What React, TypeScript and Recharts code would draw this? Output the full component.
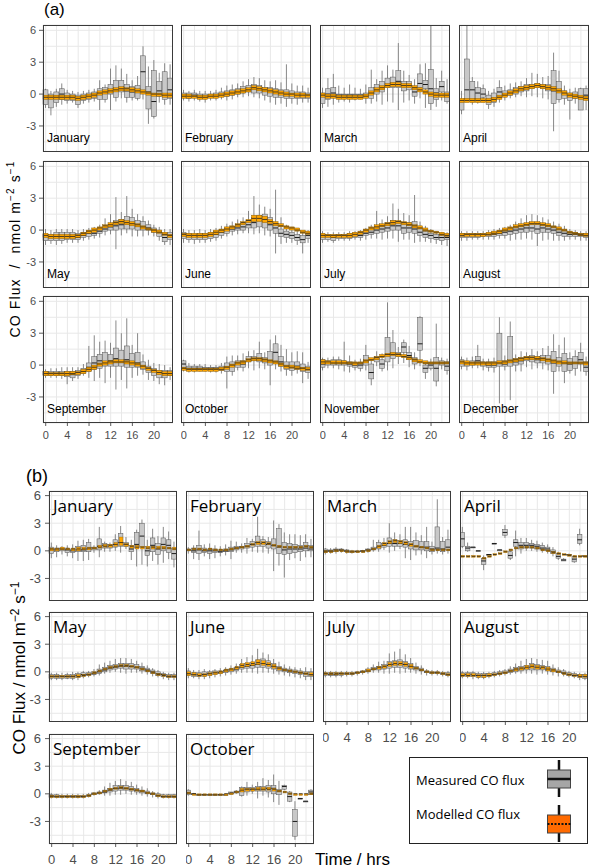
import { ComposedChart, Bar, XAxis, YAxis, CartesianGrid } from "recharts";

// hourly flux box plots, values in tenths of nmol m-2 s-1
// measured: [lower whisker, q1, median, q3, upper whisker]; modelled: [q1, median, q3]
const HOURS = [0, 1, 2, 3, 4, 5, 6, 7, 8, 9, 10, 11, 12, 13, 14, 15, 16, 17, 18, 19, 20, 21, 22, 23];
const MONTHS = ["January", "February", "March", "April", "May", "June", "July", "August", "September", "October", "November", "December"];
const Y_TICKS = [-4.5, -3, -1.5, 0, 1.5, 3, 4.5, 6];
const Y_LABELS = [-3, 0, 3, 6];
const X_LABELS = [0, 4, 8, 12, 16, 20];

// ---- (a)
const A_JAN_MEAS = [[-13,-10,-3,4,5],[-20,-13,-4,0,3],[-12,-8,-2,2,5],[-10,-5,0,5,10],[-9,-6,-3,1,4],[-8,-6,-3,0,3],[-13,-10,-5,-1,2],[-9,-6,-3,0,3],[-8,-5,-2,1,4],[-7,-4,0,2,5],[-15,-5,1,5,13],[-8,-5,1,6,9],[-15,0,4,9,24],[-7,-3,5,13,27],[-4,2,6,13,24],[-8,-3,3,9,19],[-6,-3,2,7,13],[-6,-4,2,8,17],[-5,2,21,36,45],[-28,-14,2,7,26],[-23,-21,-7,22,32],[-8,-2,3,12,20],[-10,-5,-1,21,29],[-10,-4,4,15,28]];
const A_JAN_MOD = [[-5,-3,-1],[-5,-3,-1],[-5,-3,-1],[-5,-3,-1],[-5,-3,-1],[-5,-3,-1],[-6,-4,-2],[-5,-3,-1],[-4,-2,0],[-3,-1,1],[-1,1,3],[0,2,4],[1,3,5],[2,4,6],[3,5,7],[3,5,6],[2,4,6],[1,3,5],[0,2,4],[-1,1,2],[-2,0,1],[-2,0,1],[-3,-1,1],[-3,-1,1]];
const A_FEB_MEAS = [[-6,-3,-1,1,4],[-7,-4,-1,1,3],[-6,-3,-1,1,4],[-7,-4,-2,0,3],[-8,-4,-2,0,3],[-6,-3,-1,0,3],[-6,-3,-1,1,4],[-5,-2,0,2,6],[-6,-2,1,3,8],[-5,-1,2,4,9],[-3,0,3,5,10],[-3,1,4,7,12],[-2,2,5,8,14],[-3,1,5,9,16],[-4,1,4,8,15],[-6,-1,3,6,13],[-8,-2,2,6,12],[-10,-3,1,5,13],[-9,-3,0,4,11],[-12,-4,0,4,28],[-9,-4,-1,3,10],[-10,-4,-1,2,8],[-8,-4,-1,2,8],[-8,-4,-1,1,6]];
const A_FEB_MOD = [[-4,-2,0],[-4,-2,0],[-4,-2,-1],[-5,-3,-1],[-5,-3,-1],[-4,-2,0],[-4,-2,0],[-3,-1,1],[-2,0,2],[-1,1,3],[0,2,4],[1,3,5],[2,4,6],[4,6,8],[3,5,7],[2,4,6],[1,3,5],[0,2,4],[-1,1,3],[-2,0,2],[-2,0,1],[-3,-1,1],[-3,-1,1],[-3,-1,0]];
const A_MAR_MEAS = [[-13,-9,-2,1,6],[-12,-5,0,5,15],[-10,-3,1,6,19],[-8,-3,-1,0,8],[-7,-3,-1,0,6],[-8,-3,-1,0,9],[-6,-3,-1,0,6],[-5,-2,-1,0,5],[-9,-3,-1,1,9],[-9,-4,1,6,23],[-7,0,4,9,14],[-10,2,7,12,22],[-7,6,9,15,27],[-8,6,10,16,23],[-15,6,12,22,48],[-8,3,8,12,22],[-6,4,8,12,18],[-9,-2,2,5,14],[-4,6,10,19,28],[-13,5,9,13,29],[-15,-9,5,23,65],[-12,-5,1,5,15],[-6,2,7,12,22],[-9,-7,-2,2,14]];
const A_MAR_MOD = [[-3,-1,1],[-4,-2,0],[-4,-2,0],[-5,-3,-1],[-5,-3,-1],[-5,-3,-1],[-5,-3,-1],[-5,-3,-1],[-4,-2,0],[-1,1,3],[2,4,6],[4,6,8],[6,8,10],[7,9,11],[7,9,11],[6,8,10],[6,8,10],[4,6,8],[2,4,6],[0,2,4],[-2,0,2],[-3,-1,1],[-3,-1,1],[-3,-1,1]];
const A_APR_MEAS = [[-19,-15,-6,-5,3],[-5,-5,4,33,65],[-10,-5,4,12,16],[-9,-5,1,6,12],[-7,-3,0,5,9],[-14,-10,-6,-1,3],[-12,-8,-4,1,5],[-8,-3,2,6,13],[-6,-2,0,3,8],[-4,-1,1,4,10],[-3,0,3,6,11],[-2,2,4,7,12],[-3,3,5,9,15],[-2,5,7,9,20],[-3,6,8,10,19],[-4,5,7,9,16],[-5,3,6,9,17],[-35,-9,3,22,39],[-8,-5,4,12,22],[-10,-4,0,3,8],[-24,-6,-2,1,5],[-9,-4,-1,2,6],[-15,-15,-4,5,6],[-15,-5,-1,5,8]];
const A_APR_MOD = [[-8,-6,-4],[-8,-6,-4],[-8,-6,-4],[-8,-6,-4],[-8,-6,-4],[-8,-6,-4],[-7,-5,-3],[-5,-3,-1],[-3,-1,1],[-1,1,3],[1,3,5],[3,5,7],[4,6,8],[5,7,9],[6,8,10],[5,7,9],[4,6,8],[3,5,7],[1,3,5],[-1,1,3],[-3,-1,1],[-4,-2,0],[-5,-3,-1],[-6,-4,-2]];
const A_MAY_MEAS = [[-14,-10,-6,-4,1],[-13,-10,-7,-4,0],[-14,-10,-6,-2,1],[-13,-10,-6,-2,1],[-12,-9,-7,-2,1],[-12,-9,-6,-2,1],[-12,-9,-7,-3,0],[-10,-7,-5,-2,1],[-9,-6,-3,-1,2],[-8,-5,-3,-1,3],[-7,-3,-1,1,5],[-5,-1,1,3,11],[-4,0,3,5,15],[-18,0,4,9,31],[-5,1,5,10,17],[-3,1,6,13,32],[-6,1,6,12,20],[-6,0,4,9,15],[-6,0,3,8,13],[-5,0,2,5,9],[-6,-2,0,2,5],[-10,-6,-2,0,3],[-14,-11,-7,-3,1],[-14,-9,-5,-2,1]];
const A_MAY_MOD = [[-7,-5,-3],[-8,-6,-4],[-8,-6,-4],[-8,-6,-4],[-8,-6,-4],[-8,-6,-4],[-7,-5,-4],[-5,-3,-2],[-3,-1,0],[-2,0,2],[0,2,3],[2,4,5],[3,5,7],[5,7,8],[6,8,10],[5,7,9],[4,6,8],[3,5,6],[1,3,4],[0,1,2],[-2,0,1],[-3,-2,0],[-5,-4,-2],[-7,-5,-4]];
const A_JUN_MEAS = [[-12,-8,-5,-2,1],[-12,-9,-6,-3,0],[-13,-9,-6,-4,0],[-12,-9,-6,-3,1],[-12,-9,-6,-3,0],[-11,-8,-5,-2,1],[-10,-7,-4,-1,2],[-8,-5,-2,0,4],[-6,-3,0,2,6],[-5,-1,1,3,8],[-4,0,2,5,10],[-3,0,3,6,12],[-3,2,5,9,18],[-4,2,7,12,32],[-3,3,9,14,24],[-5,2,8,15,22],[-6,0,5,12,20],[-22,-3,2,6,38],[-13,-6,-3,1,12],[-12,-7,-4,-1,5],[-12,-8,-5,-2,3],[-14,-10,-7,-4,1],[-22,-12,-9,-5,-1],[-12,-8,-5,-3,0]];
const A_JUN_MOD = [[-6,-4,-3],[-7,-5,-3],[-7,-5,-3],[-7,-5,-3],[-7,-5,-3],[-6,-4,-2],[-4,-2,0],[-2,0,1],[-1,1,3],[1,3,4],[3,5,6],[5,7,8],[7,9,10],[8,11,14],[8,11,14],[7,10,13],[6,8,10],[4,6,8],[3,4,6],[1,3,4],[0,2,3],[-1,0,2],[-3,-2,0],[-4,-3,-1]];
const A_JUL_MEAS = [[-12,-9,-6,-4,-1],[-11,-9,-6,-4,-2],[-12,-10,-7,-5,-2],[-10,-8,-6,-4,-2],[-10,-8,-6,-4,-2],[-10,-8,-6,-3,-1],[-9,-7,-5,-3,-1],[-10,-7,-5,-3,0],[-9,-5,-3,-1,2],[-8,-4,-2,1,5],[-8,-3,0,4,18],[-9,-2,1,5,10],[-8,-1,2,7,13],[-8,0,4,9,25],[-11,0,4,8,20],[-9,-3,2,6,16],[-9,-2,2,7,14],[-12,-3,1,8,33],[-11,-5,-2,2,8],[-11,-7,-4,-1,4],[-12,-8,-5,-3,1],[-13,-9,-7,-4,-1],[-14,-10,-7,-5,-2],[-15,-9,-7,-4,-2]];
const A_JUL_MOD = [[-7,-5,-3],[-7,-5,-4],[-7,-5,-4],[-7,-5,-4],[-7,-5,-4],[-7,-5,-3],[-6,-4,-2],[-4,-2,-1],[-2,0,1],[0,2,3],[1,3,5],[3,4,6],[4,6,7],[5,7,9],[6,8,9],[5,7,8],[4,5,7],[2,4,5],[1,2,4],[-1,0,2],[-2,-1,0],[-3,-2,-1],[-5,-4,-2],[-6,-5,-3]];
const A_AUG_MEAS = [[-10,-7,-5,-3,-1],[-10,-7,-5,-3,-1],[-9,-7,-5,-3,-1],[-9,-7,-5,-3,-1],[-9,-6,-5,-3,-1],[-9,-6,-4,-3,0],[-9,-6,-4,-2,1],[-8,-5,-3,-1,2],[-8,-5,-2,0,3],[-10,-4,-1,1,5],[-9,-3,0,2,8],[-9,-2,1,4,11],[-8,-2,2,6,14],[-9,-1,2,7,15],[-15,-3,1,6,14],[-10,-2,2,6,12],[-9,-2,1,5,10],[-10,-3,0,3,8],[-10,-5,-2,1,6],[-10,-6,-3,0,4],[-9,-6,-4,-2,1],[-9,-6,-4,-2,0],[-10,-6,-5,-3,-1],[-10,-7,-5,-3,-1]];
const A_AUG_MOD = [[-6,-5,-3],[-6,-4,-3],[-6,-4,-3],[-6,-4,-3],[-6,-4,-3],[-5,-4,-2],[-4,-3,-1],[-3,-1,0],[-1,0,2],[0,2,3],[2,3,5],[3,4,6],[4,5,7],[5,6,8],[5,6,8],[4,5,7],[3,4,6],[2,3,4],[0,1,3],[-1,0,1],[-3,-2,-1],[-4,-3,-2],[-5,-4,-3],[-6,-5,-3]];
const A_SEP_MEAS = [[-12,-10,-8,-6,-4],[-12,-10,-8,-6,-3],[-12,-10,-8,-6,-3],[-13,-10,-8,-6,-2],[-18,-11,-9,-6,-2],[-15,-12,-9,-6,-2],[-13,-10,-8,-5,-2],[-10,-8,-6,-3,1],[-12,-6,-2,2,18],[-15,-4,2,8,28],[-12,-3,4,10,22],[-17,-1,3,12,23],[-12,-1,4,10,21],[-23,-1,6,16,42],[-14,-1,4,14,30],[-22,-2,5,18,44],[-12,-2,3,11,19],[-10,-2,2,12,30],[-9,-4,-1,3,10],[-14,-7,-4,-1,5],[-15,-10,-6,-3,2],[-18,-12,-8,-5,1],[-19,-12,-8,-5,0],[-14,-10,-8,-5,-2]];
const A_SEP_MOD = [[-10,-8,-6],[-10,-8,-7],[-10,-8,-7],[-10,-8,-7],[-10,-8,-6],[-9,-8,-6],[-9,-7,-6],[-8,-6,-4],[-6,-4,-2],[-4,-2,0],[-1,1,2],[0,2,4],[1,3,4],[2,3,5],[2,3,5],[1,3,4],[0,2,4],[-1,1,2],[-3,-1,0],[-5,-3,-2],[-7,-5,-4],[-9,-7,-5],[-10,-8,-6],[-10,-8,-6]];
const A_OCT_MEAS = [[-6,-2,1,4,5],[-7,-5,-3,-1,2],[-7,-5,-3,-1,1],[-6,-4,-3,-1,1],[-6,-4,-3,-2,1],[-7,-5,-3,-2,0],[-7,-5,-3,-2,0],[-8,-5,-3,-1,2],[-22,-6,-2,2,8],[-10,-6,-1,3,9],[-5,-2,1,4,9],[-6,-2,1,4,11],[-3,3,5,8,13],[-5,4,6,8,14],[-3,3,5,11,22],[-4,2,5,7,12],[-19,0,4,13,24],[-4,3,12,20,28],[-6,-1,3,8,19],[-10,-4,-1,3,15],[-10,-5,-2,3,12],[-8,-4,-1,3,13],[-17,-6,-3,1,12],[-13,-7,-4,-1,3]];
const A_OCT_MOD = [[-5,-3,-2],[-6,-4,-3],[-6,-4,-3],[-6,-4,-3],[-6,-4,-3],[-6,-4,-3],[-6,-4,-3],[-5,-4,-2],[-4,-2,-1],[-2,0,1],[0,2,3],[1,3,4],[3,5,6],[4,6,7],[4,6,7],[3,5,6],[2,4,5],[1,3,4],[-1,1,2],[-3,-1,0],[-3,-2,0],[-4,-3,-1],[-5,-3,-2],[-5,-4,-2]];
const A_NOV_MEAS = [[-5,-2,1,5,7],[-3,0,2,4,7],[-3,0,3,5,8],[-4,0,2,5,8],[-6,0,2,4,22],[-7,-1,1,3,9],[-5,-2,0,2,5],[-6,-3,0,2,6],[-5,0,3,9,19],[-19,-13,-7,1,5],[-1,3,6,8,13],[-6,-3,1,5,11],[-5,3,9,26,59],[-3,6,11,21,33],[1,8,10,12,17],[2,12,17,21,24],[-2,5,9,12,18],[-4,1,4,7,12],[-1,14,20,45,46],[-13,-7,-3,0,3],[-5,-3,0,2,6],[-20,-15,-3,7,39],[-4,0,2,4,7],[-9,-5,-1,3,6]];
const A_NOV_MOD = [[1,3,5],[1,3,4],[1,2,4],[1,2,4],[1,2,4],[1,2,3],[0,2,3],[1,2,3],[2,4,5],[4,5,7],[5,7,8],[7,8,10],[8,10,11],[9,10,12],[8,10,11],[7,8,10],[5,7,8],[3,5,6],[2,3,5],[1,2,4],[1,2,3],[1,2,3],[1,2,3],[1,2,3]];
const A_DEC_MEAS = [[-4,-1,2,5,8],[-5,-1,1,3,7],[-3,0,2,4,8],[-3,1,4,8,19],[-5,-1,1,3,6],[-6,-2,0,3,6],[-7,-2,0,3,7],[-36,-1,2,30,45],[-5,-1,1,4,9],[-33,-1,3,27,41],[-6,0,3,6,10],[-6,1,4,7,13],[-2,4,6,8,12],[-4,3,6,9,15],[-3,2,5,8,13],[-4,2,5,9,16],[-5,1,4,9,18],[-27,-6,2,13,29],[-6,-1,2,7,19],[-17,-6,2,11,26],[-8,-5,1,6,12],[-10,-3,2,8,14],[-6,1,5,12,21],[-10,-6,-2,3,8]];
const A_DEC_MOD = [[1,3,4],[0,2,4],[0,2,3],[0,2,3],[0,2,3],[0,2,3],[0,2,3],[1,2,4],[1,3,4],[2,4,5],[3,5,6],[4,6,7],[5,7,8],[5,7,8],[5,6,8],[4,6,7],[3,5,6],[2,4,5],[1,3,4],[1,2,4],[1,2,3],[1,2,3],[1,2,3],[0,2,3]];

// ---- (b)
const B_JAN_MEAS = [[-8,-3,1,4,9],[-7,-1,1,3,6],[-4,0,2,3,5],[-6,-2,1,3,6],[-8,-2,0,2,7],[-11,-1,1,5,11],[-11,-1,1,6,12],[-10,-1,2,9,13],[-2,1,3,4,6],[-7,1,5,13,26],[-1,3,6,8,10],[-1,3,5,7,9],[0,4,7,12,18],[-2,5,9,19,27],[2,5,7,9,15],[-10,-1,2,6,12],[-17,3,7,20,23],[-15,4,16,30,34],[-17,-5,0,5,12],[-11,-1,6,14,24],[-15,-4,2,8,16],[-13,0,7,14,26],[-9,-2,6,12,21],[-18,-9,-3,3,10]];
const B_JAN_MOD = [[0,2,3],[0,2,3],[1,2,4],[1,2,3],[0,2,3],[0,2,4],[1,2,4],[1,3,4],[2,3,4],[3,4,6],[4,5,7],[4,6,7],[5,7,9],[6,9,15],[5,7,8],[3,5,6],[2,4,6],[2,4,5],[2,3,5],[2,4,5],[2,3,5],[2,3,5],[2,3,4],[1,2,4]];
const B_FEB_MEAS = [[-3,0,1,2,4],[-9,-2,0,3,6],[-10,-3,1,6,22],[-6,-2,0,3,7],[-9,-3,0,2,8],[-8,-2,0,2,6],[-6,-2,-1,1,5],[-5,-1,0,2,7],[-9,-1,1,4,11],[-2,1,3,5,10],[-2,2,4,5,8],[-3,3,5,8,14],[-1,4,7,10,13],[-2,5,9,16,37],[-2,5,8,12,16],[-3,3,7,10,15],[-22,2,6,13,33],[-16,-3,4,24,29],[-29,-4,1,9,20],[-10,-3,2,8,18],[-8,-2,2,7,18],[-11,-1,2,6,17],[-7,0,3,9,18],[-7,0,2,6,13]];
const B_FEB_MOD = [[0,1,2],[1,2,3],[1,2,3],[0,1,2],[1,2,3],[0,1,2],[0,1,2],[0,1,2],[1,2,3],[2,3,4],[3,4,5],[4,5,6],[6,7,8],[7,9,10],[7,9,10],[7,8,9],[5,6,7],[4,5,6],[3,4,5],[3,4,5],[3,4,5],[3,4,5],[4,5,6],[3,4,5]];
const B_MAR_MEAS = [[-4,-2,0,2,3],[-3,-1,0,1,3],[-3,-1,1,2,4],[-2,0,1,2,3],[-3,-1,0,1,2],[-3,-2,-1,0,1],[-2,-1,-1,0,1],[-2,-1,0,0,1],[-2,0,1,2,3],[-1,1,2,4,12],[-1,2,4,9,12],[1,4,6,8,14],[-2,5,8,14,30],[0,5,8,12,20],[2,5,8,11,18],[-8,4,7,12,26],[-10,2,6,10,26],[-5,1,5,11,20],[-4,1,4,10,17],[-8,0,4,10,26],[-4,-1,2,5,10],[-3,1,3,26,56],[-4,-1,2,10,15],[-3,1,4,12,23]];
const B_MAR_MOD = [[-2,-1,0],[-2,-1,0],[-1,0,1],[-1,0,1],[-2,-1,0],[-2,-1,0],[-2,-1,0],[-2,-1,0],[-1,0,1],[1,2,3],[3,5,6],[6,8,9],[8,10,11],[9,11,12],[8,10,11],[7,9,10],[5,7,8],[4,5,6],[3,4,5],[2,3,4],[0,1,2],[0,1,2],[0,1,2],[0,1,2]];
const B_APR_MEAS = [[3,5,13,20,26],[-1,0,3,5,9],[4,4,4,4,4],[0,0,0,0,0],[-21,-15,-11,-8,-5],[-4,-4,-4,-4,-4],[8,8,8,8,8],[0,0,1,1,1],[14,17,20,23,28],[-10,-8,-5,-1,0],[-6,5,9,12,22],[-3,2,6,9,14],[0,3,6,9,14],[0,3,6,8,12],[-1,2,5,7,11],[-2,1,3,6,9],[-3,0,2,4,7],[-6,-3,-1,1,4],[-10,-8,-6,-3,-1],[-11,-11,-10,-9,-8],[-5,-5,-4,-4,-3],[-13,-12,-9,-6,-5],[6,8,12,18,24],[-6,-6,-6,-5,-5]];
const B_APR_MOD = [[-7,-6,-5],[-7,-6,-5],[-7,-6,-5],[-7,-6,-5],[-9,-8,-7],[-7,-6,-5],[-5,-4,-3],[-4,-3,-2],[-2,-1,0],[0,1,2],[2,3,4],[3,4,5],[3,4,5],[3,4,5],[2,3,4],[0,1,2],[-1,0,1],[-3,-2,-1],[-4,-3,-2],[-5,-4,-3],[-6,-5,-4],[-7,-6,-5],[-7,-6,-5],[-7,-6,-5]];
const B_MAY_MEAS = [[-9,-7,-5,-3,-1],[-9,-7,-5,-3,-1],[-9,-7,-5,-4,-1],[-8,-7,-5,-3,-1],[-9,-7,-5,-3,0],[-9,-6,-4,-2,0],[-7,-5,-3,-1,1],[-6,-4,-3,-1,1],[-5,-3,-2,0,3],[-4,-2,0,3,8],[-2,0,2,5,10],[-1,2,4,7,12],[0,3,5,8,14],[-1,4,6,9,15],[-2,3,6,9,15],[-1,3,6,9,14],[-1,3,5,8,12],[-2,1,4,6,10],[-3,0,2,4,7],[-5,-2,0,2,4],[-6,-4,-2,0,2],[-8,-5,-3,-2,0],[-9,-6,-5,-3,-1],[-9,-6,-5,-3,-1]];
const B_MAY_MOD = [[-6,-5,-4],[-6,-5,-4],[-6,-5,-4],[-6,-5,-4],[-6,-5,-4],[-6,-5,-3],[-5,-4,-3],[-4,-3,-2],[-2,-1,0],[0,1,2],[2,3,4],[4,5,6],[5,6,7],[6,7,8],[6,7,8],[5,6,7],[4,5,6],[2,3,4],[0,1,2],[-2,-1,0],[-4,-3,-2],[-5,-4,-3],[-6,-5,-4],[-6,-5,-4]];
const B_JUN_MEAS = [[-7,-4,-2,1,4],[-7,-5,-3,-1,2],[-8,-5,-3,-1,2],[-8,-5,-3,0,3],[-7,-4,-2,0,2],[-6,-3,-1,1,3],[-5,-2,-1,1,4],[-4,-1,1,2,5],[-3,0,2,3,7],[-2,1,3,5,9],[-1,3,5,8,14],[-1,4,6,9,16],[-1,4,7,10,18],[-2,5,8,13,25],[-1,5,9,14,21],[-1,4,8,12,19],[-2,3,6,9,14],[-3,1,4,6,11],[-4,0,2,4,8],[-5,-1,1,3,6],[-6,-2,0,2,5],[-7,-3,-1,1,4],[-9,-5,-2,0,5],[-9,-5,-3,0,4]];
const B_JUN_MOD = [[-4,-2,0],[-4,-3,-1],[-5,-4,-2],[-5,-3,-2],[-4,-2,-1],[-3,-1,0],[-2,0,1],[0,2,3],[1,3,4],[3,5,6],[5,7,9],[6,8,10],[7,9,11],[8,10,13],[7,9,12],[6,8,10],[4,6,8],[2,4,5],[1,2,3],[0,1,2],[-1,0,1],[-2,-1,0],[-3,-2,-1],[-4,-3,-1]];
const B_JUL_MEAS = [[-6,-4,-2,-1,1],[-6,-4,-3,-1,1],[-6,-4,-3,-1,1],[-6,-4,-2,-1,1],[-5,-3,-2,-1,1],[-5,-3,-2,-1,1],[-4,-2,-1,0,1],[-3,-1,0,1,2],[-2,0,1,3,5],[-1,2,3,5,8],[-1,2,4,6,11],[-2,3,5,8,12],[-2,4,7,11,20],[-1,5,8,12,22],[-2,5,8,13,25],[-1,4,8,11,19],[-1,3,6,9,15],[-2,2,4,6,10],[-3,1,2,4,7],[-4,-1,0,1,3],[-4,-2,-1,0,2],[-4,-2,-1,0,2],[-5,-3,-2,-1,1],[-6,-4,-3,-1,1]];
const B_JUL_MOD = [[-3,-2,-1],[-3,-2,-1],[-3,-2,-1],[-3,-2,-1],[-3,-2,-1],[-2,-2,-1],[-2,-1,0],[-1,0,1],[0,1,3],[2,3,4],[3,5,6],[4,6,7],[6,8,10],[7,9,11],[7,9,11],[6,8,10],[4,6,8],[3,4,5],[1,2,3],[-1,0,1],[-2,-1,0],[-2,-1,0],[-3,-2,-1],[-4,-3,-2]];
const B_AUG_MEAS = [[-7,-5,-3,-1,1],[-7,-5,-3,-1,1],[-8,-5,-3,-1,1],[-8,-6,-4,-2,0],[-8,-6,-4,-2,0],[-7,-5,-4,-2,0],[-6,-4,-3,-1,1],[-5,-3,-2,0,2],[-4,-2,-1,1,3],[-3,-1,1,3,6],[-2,0,2,5,9],[-2,1,3,6,12],[-2,2,4,7,14],[-2,2,5,9,15],[-3,2,5,8,14],[-2,2,4,7,13],[-3,1,3,6,12],[-4,0,2,4,8],[-5,-1,0,2,5],[-5,-2,-1,1,3],[-6,-4,-3,-1,1],[-7,-5,-4,-2,0],[-9,-6,-4,-3,-1],[-9,-7,-5,-3,-1]];
const B_AUG_MOD = [[-5,-4,-2],[-5,-4,-2],[-5,-4,-2],[-6,-4,-3],[-6,-4,-3],[-5,-4,-2],[-4,-3,-2],[-3,-2,-1],[-2,-1,0],[0,1,2],[1,3,4],[2,4,5],[3,5,7],[4,6,8],[3,5,7],[3,5,6],[1,3,5],[0,2,3],[-1,0,1],[-3,-2,-1],[-4,-3,-2],[-5,-4,-3],[-6,-5,-3],[-6,-5,-3]];
const B_SEP_MEAS = [[-5,-4,-2,-1,1],[-5,-4,-3,-1,0],[-5,-4,-3,-2,0],[-5,-4,-3,-2,0],[-5,-4,-3,-2,0],[-5,-4,-3,-2,0],[-5,-4,-3,-2,0],[-4,-3,-2,-1,1],[-2,-1,0,1,2],[-1,0,1,2,4],[-2,1,2,4,8],[-2,2,4,6,12],[-1,3,6,9,14],[-1,4,6,9,16],[0,4,6,9,14],[-1,3,5,8,13],[-1,2,4,6,10],[-2,1,3,4,8],[-3,0,1,3,6],[-4,-1,0,1,3],[-5,-3,-2,0,2],[-5,-4,-3,-1,0],[-5,-4,-3,-1,0],[-5,-4,-3,-1,0]];
const B_SEP_MOD = [[-4,-3,-2],[-4,-3,-2],[-4,-3,-2],[-4,-3,-2],[-4,-3,-2],[-4,-3,-2],[-4,-3,-2],[-3,-2,-1],[-1,0,1],[0,1,2],[2,3,4],[4,5,6],[5,6,7],[6,7,8],[5,6,7],[4,5,6],[3,4,5],[2,3,4],[0,1,2],[-1,0,1],[-3,-2,-1],[-4,-3,-2],[-4,-3,-2],[-4,-3,-2]];
const B_OCT_MEAS = [[-2,-1,1,4,5],[-1,-1,0,0,1],[-2,-2,-1,-1,-1],[-1,-1,-1,-1,-1],[-1,-1,-1,-1,0],[-2,-1,-1,-1,-1],[-1,-1,-1,-1,-1],[-1,-1,-1,-1,0],[-1,0,0,2,2],[0,1,2,3,4],[-3,-2,3,7,8],[-2,2,5,7,13],[0,3,5,7,10],[-5,3,5,8,13],[-2,3,5,8,17],[-4,2,6,9,15],[-9,0,6,9,21],[-12,-1,3,5,14],[4,5,8,9,10],[-9,-8,-3,2,3],[-50,-46,-30,-17,-8],[-5,-5,-5,-5,-5],[-8,-8,-8,-8,-8],[-1,-1,2,4,5]];
const B_OCT_MOD = [[0,1,2],[-1,0,0],[-1,-1,0],[-1,-1,0],[-1,-1,0],[-1,-1,0],[-1,-1,0],[-1,0,0],[0,1,1],[1,2,3],[2,4,6],[3,5,6],[3,5,6],[4,5,7],[4,5,7],[4,5,7],[3,5,6],[2,3,4],[1,2,3],[0,0,1],[-1,0,0],[-1,0,0],[-1,0,0],[-1,0,1]];

const PANELS_A = [
  [A_JAN_MEAS, A_JAN_MOD], [A_FEB_MEAS, A_FEB_MOD], [A_MAR_MEAS, A_MAR_MOD], [A_APR_MEAS, A_APR_MOD],
  [A_MAY_MEAS, A_MAY_MOD], [A_JUN_MEAS, A_JUN_MOD], [A_JUL_MEAS, A_JUL_MOD], [A_AUG_MEAS, A_AUG_MOD],
  [A_SEP_MEAS, A_SEP_MOD], [A_OCT_MEAS, A_OCT_MOD], [A_NOV_MEAS, A_NOV_MOD], [A_DEC_MEAS, A_DEC_MOD],
];
const PANELS_B = [
  [B_JAN_MEAS, B_JAN_MOD], [B_FEB_MEAS, B_FEB_MOD], [B_MAR_MEAS, B_MAR_MOD], [B_APR_MEAS, B_APR_MOD],
  [B_MAY_MEAS, B_MAY_MOD], [B_JUN_MEAS, B_JUN_MOD], [B_JUL_MEAS, B_JUL_MOD], [B_AUG_MEAS, B_AUG_MOD],
  [B_SEP_MEAS, B_SEP_MOD], [B_OCT_MEAS, B_OCT_MOD],
];

const AXIS_FONT = "'Liberation Sans', Arial, sans-serif";
const LABEL_FONT = "'Open Sans', 'Noto Sans', sans-serif";
const PAD = 10; // room above each plot so the top tick label is not clipped

const STYLE_A = {
  cols: [43, 181, 320, 459], rows: [25, 161, 296], w: 130, h: 127,
  yw: 30, xh: 22, tickFont: 11, xMargin: 8, yMargin: 7,
  mBar: 5, oBar: 5, oFill: "#ffa500", oStroke: "#7a5200",
};
const STYLE_B = {
  cols: [49, 186, 323, 460], rows: [491, 612, 734], w: 128, h: 110,
  yw: 36, xh: 24, tickFont: 13, xMargin: 11, yMargin: 8,
  mBar: 4.6, oBar: 3.6, oFill: "#ffa500", oStroke: "#9a6a10",
};

function MeasBox(props: any) {
  const { x, y, width, height, payload } = props;
  const [lo, q1, med, q3, hi] = payload.m;
  const span = hi - lo;
  const py = (v: number) => (span > 0 ? y + ((hi - v) / span) * height : y);
  const cx = x + width / 2;
  const top = py(q3);
  const bh = Math.max(py(q1) - top, 0.8);
  return (
    <g>
      {span > 0 && <line x1={cx} x2={cx} y1={py(hi)} y2={py(lo)} stroke="#7a7a7a" strokeWidth={0.9} />}
      <rect x={x} y={top} width={width} height={bh} fill="#c8c8c8" stroke="#555" strokeWidth={0.5} />
      <line x1={x} x2={x + width} y1={py(med)} y2={py(med)} stroke="#1a1a1a" strokeWidth={1} />
    </g>
  );
}

function makeModBox(fill: string, stroke: string) {
  return (props: any) => {
    const { x, y, width, height, payload } = props;
    const [q1, med, q3] = payload.o;
    const span = q3 - q1;
    const py = (v: number) => (span > 0 ? y + ((q3 - v) / span) * height : y);
    const bh = Math.max(py(q1) - py(q3), 1.6);
    return (
      <g>
        <rect x={x} y={py(q3)} width={width} height={bh} fill={fill} stroke={stroke} strokeWidth={0.4} />
        <line x1={x} x2={x + width} y1={py(med)} y2={py(med)} stroke="#222" strokeWidth={0.8} />
      </g>
    );
  };
}

function makeXTick(show: boolean, fontSize: number, margin: number) {
  return (p: any) => {
    const v = p.payload.value;
    if (!show || !X_LABELS.includes(v)) return <g />;
    const y0 = p.y - margin;
    return (
      <g>
        <line x1={p.x} x2={p.x} y1={y0} y2={y0 + 3} stroke="#333" strokeWidth={0.8} />
        <text x={p.x} y={p.y} dy="0.71em" textAnchor="middle" fontSize={fontSize} fill="#4d4d4d" fontFamily={AXIS_FONT}>
          {v}
        </text>
      </g>
    );
  };
}

function makeYTick(show: boolean, fontSize: number, margin: number) {
  return (p: any) => {
    const v = p.payload.value;
    if (!show || !Y_LABELS.includes(v)) return <g />;
    const x0 = p.x + margin;
    return (
      <g>
        <line x1={x0 - 4} x2={x0} y1={p.y} y2={p.y} stroke="#333" strokeWidth={0.8} />
        <text x={p.x} y={p.y} dy="0.355em" textAnchor="end" fontSize={fontSize} fill="#4d4d4d" fontFamily={AXIS_FONT}>
          {v}
        </text>
      </g>
    );
  };
}

function Panel({ meas, mod, left, top, st, showX, showY, month }: any) {
  const yw = showY ? st.yw : 0;
  const xh = showX ? st.xh : 0;
  const data = HOURS.map((hour, i) => {
    const m = meas[i].map((v: number) => v / 10);
    const o = mod[i].map((v: number) => v / 10);
    return { hour, m, o, mRange: [m[0], m[4]], oRange: [o[0], o[2]] };
  });
  return (
    <>
      <div style={{ position: "absolute", left: left - yw, top: top - PAD }}>
        <ComposedChart width={st.w + yw} height={st.h + xh + PAD} data={data} margin={{ top: PAD, right: 0, bottom: 0, left: 0 }}>
          <CartesianGrid xAxisId="m" stroke="#e8e8e8" strokeWidth={1} />
          <XAxis
            xAxisId="m"
            dataKey="hour"
            type="category"
            interval={1}
            height={xh}
            axisLine={false}
            tickLine={false}
            tickSize={0}
            tickMargin={st.xMargin}
            tick={makeXTick(showX, st.tickFont, st.xMargin)}
          />
          <XAxis xAxisId="o" dataKey="hour" type="category" hide />
          <YAxis
            domain={[-5.45, 6.5]}
            allowDataOverflow
            ticks={Y_TICKS}
            interval={0}
            width={yw}
            axisLine={false}
            tickLine={false}
            tickSize={0}
            tickMargin={st.yMargin}
            tick={makeYTick(showY, st.tickFont, st.yMargin)}
          />
          <Bar xAxisId="m" dataKey="mRange" barSize={st.mBar} shape={MeasBox} isAnimationActive={false} />
          <Bar xAxisId="o" dataKey="oRange" barSize={st.oBar} shape={makeModBox(st.oFill, st.oStroke)} isAnimationActive={false} />
        </ComposedChart>
      </div>
      <div
        style={{
          position: "absolute",
          left,
          top,
          width: st.w,
          height: st.h,
          border: "1px solid #3a3a3a",
          boxSizing: "border-box",
          pointerEvents: "none",
        }}
      />
      {month}
    </>
  );
}

export default function App() {
  const a = STYLE_A;
  const b = STYLE_B;
  return (
    <div style={{ position: "absolute", left: 0, top: 0, width: 591, height: 868, background: "#fff", overflow: "hidden" }}>
      <div style={{ position: "absolute", left: 44, top: 0, fontSize: 17, fontFamily: AXIS_FONT }}>(a)</div>
      <div style={{ position: "absolute", left: 26, top: 466, fontSize: 18, fontFamily: AXIS_FONT }}>(b)</div>

      {PANELS_A.map(([meas, mod], i) => {
        const r = Math.floor(i / 4);
        const c = i % 4;
        const left = a.cols[c];
        const top = a.rows[r];
        return (
          <Panel
            key={"a" + i}
            meas={meas}
            mod={mod}
            left={left}
            top={top}
            st={a}
            showX={r === 2}
            showY={c === 0}
            month={
              <div style={{ position: "absolute", left: left + 4, top: top + a.h - 21, fontSize: 12, fontFamily: AXIS_FONT, color: "#000" }}>
                {MONTHS[i]}
              </div>
            }
          />
        );
      })}

      {PANELS_B.map(([meas, mod], i) => {
        const r = Math.floor(i / 4);
        const c = i % 4;
        const left = b.cols[c];
        const top = b.rows[r];
        const showX = r === 2 || (r === 1 && c >= 2);
        return (
          <Panel
            key={"b" + i}
            meas={meas}
            mod={mod}
            left={left}
            top={top}
            st={b}
            showX={showX}
            showY={c === 0}
            month={
              <div style={{ position: "absolute", left: left + 4, top: top + 3, fontSize: 17, fontFamily: LABEL_FONT, color: "#000", lineHeight: "23px" }}>
                {MONTHS[i]}
              </div>
            }
          />
        );
      })}

      <div
        style={{
          position: "absolute",
          left: 14,
          top: 249,
          transform: "translate(-50%, -50%) rotate(-90deg)",
          whiteSpace: "pre",
          fontSize: 14,
          letterSpacing: "1.1px",
          fontFamily: AXIS_FONT,
          color: "#000",
        }}
      >
        CO Flux  /  nmol m<sup style={{ fontSize: 10 }}>−2</sup> s<sup style={{ fontSize: 10 }}>−1</sup>
      </div>
      <div
        style={{
          position: "absolute",
          left: 19,
          top: 668,
          transform: "translate(-50%, -50%) rotate(-90deg)",
          whiteSpace: "pre",
          fontSize: 17,
          fontFamily: AXIS_FONT,
          color: "#000",
        }}
      >
        CO Flux / nmol m<sup style={{ fontSize: 12 }}>−2</sup> s<sup style={{ fontSize: 12 }}>−1</sup>
      </div>

      <div style={{ position: "absolute", left: 315, top: 850, fontSize: 17, fontFamily: AXIS_FONT, color: "#000", whiteSpace: "nowrap" }}>
        Time / hrs
      </div>

      <div style={{ position: "absolute", left: 409, top: 757, width: 179, height: 87, border: "1px solid #222", boxSizing: "border-box" }}>
        <div style={{ position: "absolute", left: 6, top: 13, fontSize: 13, fontFamily: LABEL_FONT }}>Measured CO flux</div>
        <div style={{ position: "absolute", left: 6, top: 47, fontSize: 13, fontFamily: LABEL_FONT }}>Modelled CO flux</div>
        <svg style={{ position: "absolute", left: 134, top: 0 }} width={30} height={86}>
          <line x1={15} x2={15} y1={2} y2={39} stroke="#111" strokeWidth={2.5} />
          <rect x={3.5} y={12} width={23} height={18} fill="#a6a6a6" stroke="#444" strokeWidth={1} />
          <line x1={3.5} x2={26.5} y1={21} y2={21} stroke="#111" strokeWidth={2.5} />
          <line x1={15} x2={15} y1={47} y2={84} stroke="#111" strokeWidth={2.5} />
          <rect x={3.5} y={57} width={23} height={18} fill="#ff6a00" stroke="#444" strokeWidth={1} />
          <line x1={3.5} x2={26.5} y1={66} y2={66} stroke="#111" strokeWidth={2} strokeDasharray="2 1.5" />
        </svg>
      </div>
    </div>
  );
}
